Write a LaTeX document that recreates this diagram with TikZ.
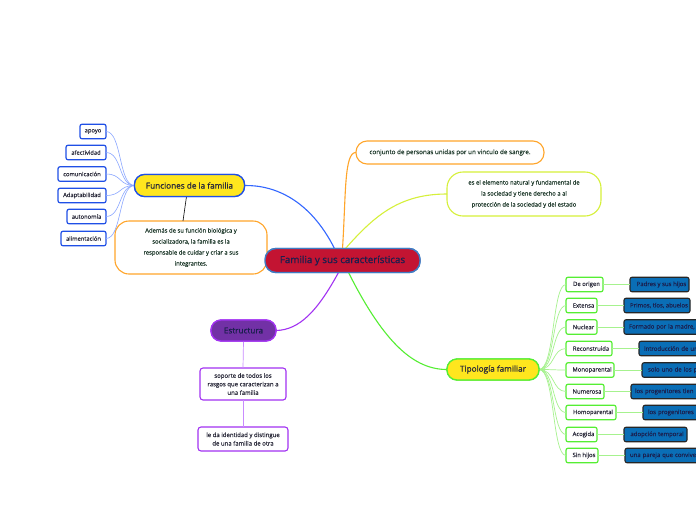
\documentclass[tikz,border=0pt]{standalone}
\usepackage{fontspec}
\setmainfont{Open Sans}[FakeBold=0.35]
\newfontfamily\topicfont{Open Sans}[FakeBold=0.9]
\begin{document}
\begin{tikzpicture}[x=1pt,y=-1pt,
  every node/.style={inner sep=0pt,outer sep=0pt},
  central/.style={draw=cBord,line width=1.4pt,fill=cRed,text=cNavy,rounded corners=11pt,minimum width=155pt,minimum height=24pt,font=\topicfont\fontsize{9.8}{11}\selectfont},
  topic/.style={line width=1.3pt,rounded corners=10pt,minimum height=22pt,font=\topicfont\fontsize{8.2}{9}\selectfont,text=cDark},
  leaf/.style={draw=cBlue,line width=1.2pt,fill=white,rounded corners=2pt,minimum height=14.5pt,font=\fontsize{5.8}{6}\selectfont,text=cDark},
  gleaf/.style={draw=cGreen,line width=1.2pt,fill=white,rounded corners=2pt,minimum height=14.5pt,font=\fontsize{5.9}{6}\selectfont,text=cDark,anchor=west},
  bleaf/.style={draw=black!85,line width=1.1pt,fill=cBB,rounded corners=2pt,minimum height=14.5pt,font=\fontsize{6}{6}\selectfont,text=cNavy,anchor=west},
  note/.style={fill=white,line width=1.1pt,rounded corners=14pt,align=center,font=\fontsize{5.9}{11}\selectfont,text=cNote},
  pnote/.style={draw=cPurp,fill=white,line width=1.1pt,rounded corners=3pt,align=center,font=\fontsize{6}{8.5}\selectfont,text=cDark},
  lconn/.style={draw=cBlueL,line width=0.6pt},
  gconn/.style={draw=cGreenL,line width=0.7pt},
]
\definecolor{cRed}{HTML}{C31432}
\definecolor{cBord}{HTML}{3F7CC4}
\definecolor{cNavy}{HTML}{1B1F4E}
\definecolor{cDark}{HTML}{2A2A3A}
\definecolor{cNote}{HTML}{1F3A2C}
\definecolor{cYel}{HTML}{FFE61E}
\definecolor{cBlue}{HTML}{1F4FE6}
\definecolor{cBlueL}{HTML}{8AA6FF}
\definecolor{cBlueC}{HTML}{3367FF}
\definecolor{cOr}{HTML}{FFA52A}
\definecolor{cYG}{HTML}{D6F03A}
\definecolor{cPurpF}{HTML}{7231A6}
\definecolor{cPurp}{HTML}{A232F2}
\definecolor{cPurpL}{HTML}{C98BFF}
\definecolor{cGreen}{HTML}{55EE33}
\definecolor{cGreenL}{HTML}{A6F28E}
\definecolor{cBB}{HTML}{0A6EB6}
\useasboundingbox (0,0) rectangle (696,520);
\clip (0,0) rectangle (696,520);
\fill[white] (0,0) rectangle (696,520);

% nodes
\node[central] (c) at (342.5,260.5) {Familia y sus características};
\node[topic,draw=cBlue,fill=cYel,minimum width=110pt] (f) at (189.5,185.5) {Funciones de la familia};
\node[leaf,minimum width=26pt] (l1) at (93,131.5) {apoyo};
\node[leaf,minimum width=40pt] (l2) at (86,152.5) {afectividad};
\node[leaf,minimum width=48pt] (l3) at (82,174) {comunicación};
\node[leaf,minimum width=48pt] (l4) at (82,195.5) {Adaptabilidad};
\node[leaf,minimum width=39pt] (l5) at (86.5,216.5) {autonomía};
\node[leaf,minimum width=45pt] (l6) at (83.5,238.5) {alimentación};
\node[note,draw=cOr,minimum width=152pt,minimum height=53pt] (o) at (191,247.5) {Además de su función biológica y\\socializadora, la familia es la\\responsable de cuidar y criar a sus\\integrantes.};
\node[note,draw=cOr,minimum width=188pt,minimum height=23pt,rounded corners=11pt,font=\fontsize{6.3}{7}\selectfont] (k) at (450,152.5) {conjunto de personas unidas por un vinculo de sangre.};
\node[note,draw=cYG,minimum width=154pt,minimum height=44pt,rounded corners=16pt,font=\fontsize{5.9}{11}\selectfont] (e) at (524,194) {es el elemento natural y fundamental de\\la sociedad y tiene derecho a al\\protección de la sociedad y del estado};
\node[topic,draw=cPurp,fill=cPurpF,minimum width=65pt,minimum height=21pt,text=cNavy] (s) at (243.5,330.5) {Estructura};
\node[pnote,minimum width=86pt,minimum height=32pt] (p1) at (243,384) {soporte de todos los\\rasgos que caracterizan a\\una familia};
\node[pnote,minimum width=90pt,minimum height=24pt] (p2) at (243,439) {le da identidad y distingue\\de una familia de otra};
\node[topic,draw=cGreen,fill=cYel,minimum width=92pt,minimum height=21pt] (t) at (493,369.5) {Tipología familiar};

\node[gleaf,minimum width=37pt] (g1) at (566,284.5) {\hspace*{4pt}De origen};
\node[gleaf,minimum width=31pt] (g2) at (566,305.5) {\hspace*{4pt}Extensa};
\node[gleaf,minimum width=31pt] (g3) at (566,327) {\hspace*{4pt}Nuclear};
\node[gleaf,minimum width=46pt] (g4) at (566,348.5) {\hspace*{4pt}Reconstruida};
\node[gleaf,minimum width=48pt] (g5) at (566,370) {\hspace*{4pt}Monoparental};
\node[gleaf,minimum width=38pt] (g6) at (566,391.5) {\hspace*{4pt}Numerosa};
\node[gleaf,minimum width=50pt] (g7) at (566,412.5) {\hspace*{4pt}Homoparental};
\node[gleaf,minimum width=31pt] (g8) at (566,434.5) {\hspace*{4pt}Acogida};
\node[gleaf,minimum width=32pt] (g9) at (566,455.5) {\hspace*{4pt}Sin hijos};

\node[bleaf,minimum width=59pt] (b1) at (630,284.5) {\hspace*{4pt}Padres y sus hijos};
\node[bleaf,minimum width=66pt] (b2) at (624,305.5) {\hspace*{4pt}Primos, tíos, abuelos};
\node[bleaf,minimum width=90pt,align=left,text width=86pt] (b3) at (624,327) {\hspace*{3pt}Formado por la madre, p};
\node[bleaf,minimum width=80pt,align=left,text width=76pt] (b4) at (639,348.5) {\hspace*{3pt}Introducción de un};
\node[bleaf,minimum width=80pt,align=left,text width=76pt] (b5) at (642,370) {\hspace*{4pt}solo uno de los pr};
\node[bleaf,minimum width=90pt,align=left,text width=86pt] (b6) at (631,391.5) {\hspace*{2pt}los progenitores tien};
\node[bleaf,minimum width=80pt,align=left,text width=76pt] (b7) at (643,412.5) {\hspace*{3pt}los progenitores};
\node[bleaf,minimum width=63pt] (b8) at (624,434.5) {\hspace*{3pt}adopción temporal};
\node[bleaf,minimum width=90pt,align=left,text width=86pt] (b9) at (625,455.5) {\hspace*{3pt}una pareja que convive};

% connectors from central
\draw[cBlueC,line width=1.1pt] ([xshift=-8pt]c.north) .. controls (310,200) and (275,185) .. (f.east);
\draw[cOr,line width=1.1pt] ([xshift=0pt]c.north) .. controls (346,195) and (344,152) .. (k.west);
\draw[cYG,line width=1.1pt] ([xshift=3pt]c.north) .. controls (375,215) and (400,194) .. (e.west);
\draw[cPurp,line width=1.1pt] ([xshift=-4pt]c.south) .. controls (318,310) and (300,330) .. (s.east);
\draw[cGreen,line width=1.1pt] ([xshift=6pt]c.south) .. controls (385,345) and (415,369.5) .. (t.west);

% Funciones links
\draw[gray!20!black,line width=0.7pt] ([xshift=-3pt]f.south) -- ([xshift=-8pt]o.north);
\foreach \i in {1,...,6}{
  \draw[lconn] (f.west) .. controls +(-16,0) and +(16,0) .. (l\i.east);
}
% Estructura links
\draw[cPurpL,line width=0.7pt] (s.south) -- (p1.north);
\draw[cPurpL,line width=0.7pt] (p1.south) -- (p2.north);
% Tipologia links
\foreach \i in {1,...,9}{
  \draw[gconn] (t.east) .. controls +(16,0) and +(-14,0) .. (g\i.west);
  \draw[gconn] (g\i.east) -- (b\i.west);
}
% redraw topic nodes on top of connectors
\node[central] at (c) {Familia y sus características};
\node[topic,draw=cBlue,fill=cYel,minimum width=110pt] at (f) {Funciones de la familia};
\node[topic,draw=cGreen,fill=cYel,minimum width=92pt,minimum height=21pt] at (t) {Tipología familiar};
\node[topic,draw=cPurp,fill=cPurpF,minimum width=65pt,minimum height=21pt,text=cNavy] at (s) {Estructura};
\end{tikzpicture}
\end{document}
